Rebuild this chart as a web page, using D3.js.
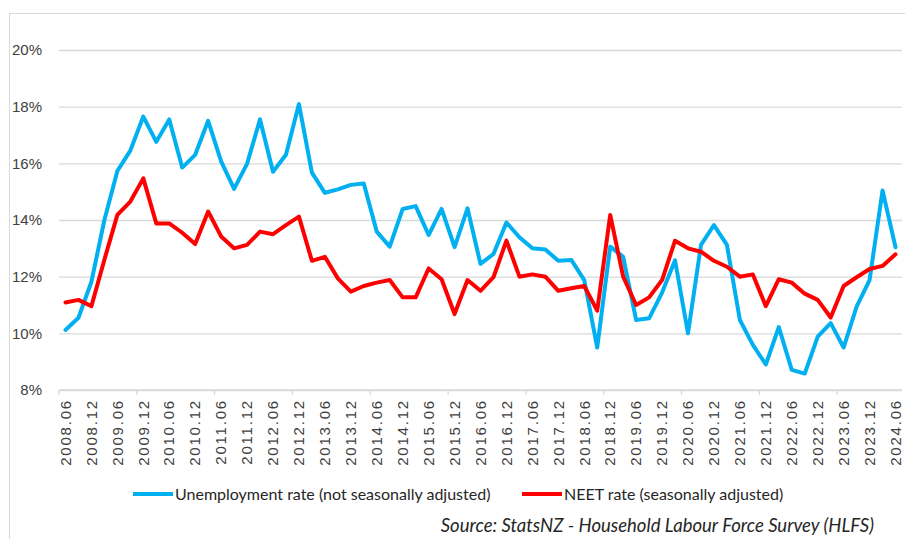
<!DOCTYPE html>
<html>
<head>
<meta charset="utf-8">
<script src="https://cdn.jsdelivr.net/npm/d3@7"></script>
<style>
  body { margin: 0; background: #fff; }
  svg { display: block; font-family: "Liberation Sans", Arial, sans-serif; }
</style>
</head>
<body>
<div id="chart"></div>
<script>
// quarters, 2008.06 .. 2024.06
var quarters = [
  "2008.06","2008.09","2008.12","2009.03","2009.06","2009.09","2009.12","2010.03",
  "2010.06","2010.09","2010.12","2011.03","2011.06","2011.09","2011.12","2012.03",
  "2012.06","2012.09","2012.12","2013.03","2013.06","2013.09","2013.12","2014.03",
  "2014.06","2014.09","2014.12","2015.03","2015.06","2015.09","2015.12","2016.03",
  "2016.06","2016.09","2016.12","2017.03","2017.06","2017.09","2017.12","2018.03",
  "2018.06","2018.09","2018.12","2019.03","2019.06","2019.09","2019.12","2020.03",
  "2020.06","2020.09","2020.12","2021.03","2021.06","2021.09","2021.12","2022.03",
  "2022.06","2022.09","2022.12","2023.03","2023.06","2023.09","2023.12","2024.03",
  "2024.06"
];

// Unemployment rate (not seasonally adjusted), %
var unemployment = [
  10.12, 10.55, 11.82, 14.0, 15.73, 16.45, 17.65, 16.76, 17.55, 15.85, 16.3, 17.5,
  16.07, 15.1, 15.98, 17.55, 15.7, 16.3, 18.09, 15.67, 14.96, 15.08, 15.24, 15.29,
  13.59, 13.06, 14.39, 14.49, 13.47, 14.39, 13.04, 14.41, 12.45, 12.8, 13.91, 13.39,
  13.0, 12.96, 12.56, 12.59, 11.88, 9.5, 13.06, 12.7, 10.47, 10.53, 11.44, 12.58,
  10.0, 13.12, 13.82, 13.12, 10.47, 9.59, 8.9, 10.22, 8.71, 8.58, 9.88, 10.36,
  9.5, 10.94, 11.88, 15.04, 13.04
];

// NEET rate (seasonally adjusted), %
var neet = [
  11.09, 11.18, 10.96, 12.6, 14.18, 14.65, 15.47, 13.88, 13.88, 13.55, 13.15, 14.3,
  13.42, 13.0, 13.12, 13.59, 13.5, 13.82, 14.12, 12.56, 12.7, 11.94, 11.47, 11.67,
  11.79, 11.88, 11.27, 11.27, 12.29, 11.91, 10.68, 11.88, 11.5, 11.98, 13.27, 12.0,
  12.08, 12.0, 11.5, 11.59, 11.67, 10.8, 14.18, 12.0, 11.0, 11.27, 11.88, 13.27,
  13.0, 12.88, 12.56, 12.35, 12.0, 12.08, 10.96, 11.91, 11.79, 11.4, 11.18, 10.56,
  11.67, 11.98, 12.27, 12.38, 12.79
];

var yTicks = [8, 10, 12, 14, 16, 18, 20];

var seriesNames = ["Unemployment rate (not seasonally adjusted)", "NEET rate (seasonally adjusted)"];
var seriesColors = ["#00b0f0", "#ff0000"];

var width = 905, height = 539;
var plot = { left: 59, right: 902, top: 50, bottom: 390 };

var svg = d3.select("#chart").append("svg")
  .attr("width", width)
  .attr("height", height);

// chart border
svg.append("rect")
  .attr("x", 9.5).attr("y", 13.5)
  .attr("width", 1000).attr("height", 1000)
  .attr("fill", "none")
  .attr("stroke", "#d9d9d9");

var x = d3.scaleBand()
  .domain(quarters)
  .range([plot.left, plot.right]);

var y = d3.scaleLinear()
  .domain([8, 20])
  .range([plot.bottom, plot.top]);

// gridlines + y labels
var yAxis = svg.append("g")
  .attr("transform", "translate(" + plot.left + ",0)")
  .call(d3.axisLeft(y)
    .tickValues(yTicks)
    .tickSize(-(plot.right - plot.left))
    .tickPadding(17)
    .tickFormat(function (d) { return d + "%"; }));

yAxis.select(".domain").remove();
yAxis.selectAll(".tick line")
  .attr("stroke", "#d9d9d9")
  .attr("stroke-width", 1.3);
yAxis.selectAll(".tick text")
  .attr("fill", "#404040")
  .style("font-size", "15px");

// x axis line
svg.append("line")
  .attr("x1", plot.left).attr("x2", plot.right)
  .attr("y1", plot.bottom).attr("y2", plot.bottom)
  .attr("stroke", "#d9d9d9")
  .attr("stroke-width", 1.3);

// tick marks on category boundaries every 6 quarters
svg.selectAll(".xtick")
  .data(quarters.filter(function (d, i) { return i % 6 === 0; }))
  .enter()
  .append("line")
  .attr("class", "xtick")
  .attr("x1", function (d) { return x(d); })
  .attr("x2", function (d) { return x(d); })
  .attr("y1", plot.bottom)
  .attr("y2", plot.bottom + 5)
  .attr("stroke", "#d9d9d9")
  .attr("stroke-width", 1.3);

// x labels (every 2nd quarter)
var xAxis = svg.append("g")
  .attr("transform", "translate(0," + plot.bottom + ")")
  .call(d3.axisBottom(x)
    .tickValues(quarters.filter(function (d, i) { return i % 2 === 0; }))
    .tickSize(0));

xAxis.select(".domain").remove();
xAxis.selectAll(".tick text")
  .attr("transform", "rotate(-90)")
  .attr("text-anchor", "end")
  .attr("x", -9)
  .attr("y", 0)
  .attr("dy", "0.35em")
  .attr("fill", "#404040")
  .style("font-size", "15px")
  .style("letter-spacing", "1.8px");

// lines
var line = d3.line()
  .x(function (d, i) { return x(quarters[i]) + x.bandwidth() / 2; })
  .y(function (d) { return y(d); });

[unemployment, neet].forEach(function (values, k) {
  svg.append("path")
    .datum(values)
    .attr("fill", "none")
    .attr("stroke", seriesColors[k])
    .attr("stroke-width", 4)
    .attr("stroke-linejoin", "round")
    .attr("stroke-linecap", "round")
    .attr("d", line);
});

// legend
var legendX = [133, 522];
var legend = svg.selectAll(".legend")
  .data(seriesNames)
  .enter()
  .append("g")
  .attr("class", "legend")
  .attr("transform", function (d, i) { return "translate(" + legendX[i] + ",494)"; });

legend.append("line")
  .attr("x1", 0).attr("x2", 40)
  .attr("stroke", function (d, i) { return seriesColors[i]; })
  .attr("stroke-width", 4);

legend.append("text")
  .attr("x", 42)
  .attr("dy", "0.35em")
  .attr("fill", "#262626")
  .style("font-family", "Lato, sans-serif")
  .style("font-size", "16px")
  .text(function (d) { return d; });

// source note
svg.append("text")
  .attr("x", 874)
  .attr("y", 532)
  .attr("text-anchor", "end")
  .attr("fill", "#262626")
  .style("font-family", "Lato, sans-serif")
  .style("font-style", "italic")
  .style("font-size", "18.5px")
  .text("Source: StatsNZ - Household Labour Force Survey (HLFS)");
</script>
</body>
</html>
